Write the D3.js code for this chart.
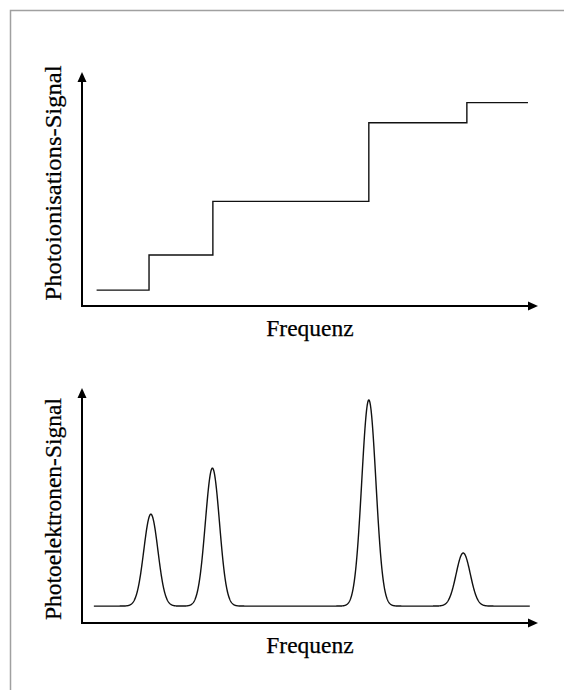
<!DOCTYPE html>
<html>
<head>
<meta charset="utf-8">
<script src="https://cdn.jsdelivr.net/npm/d3@7"></script>
<style>
  body { margin: 0; background: #fff; }
  text { font-family: "Liberation Serif", "Times New Roman", serif; fill: #000; stroke: #000; stroke-width: 0.25px; }
</style>
</head>
<body>
<script>
// step edges (frequency units) and plateau levels for the ionisation signal
var stepEdges = [3.2, 14.7, 28.7, 62.9, 84.4, 97.8];
var stepLevels = [6.8, 21.8, 44.7, 78.3, 86.9];

// photoelectron peaks: centres, heights above baseline, width
var peakCenters = [15.1, 28.6, 62.9, 83.6];
var peakHeights = [39.1, 58.7, 87.7, 22.6];
var peakWidth = 1.55;
var peBaseline = 7.2;
var peRange = [2.6, 98.2];

var xLabel = "Frequenz";
var yLabelTop = "Photoionisations-Signal";
var yLabelBottom = "Photoelektronen-Signal";

var width = 564, height = 690;

var svg = d3.select("body").append("svg")
    .attr("width", width)
    .attr("height", height);

// outer frame, runs off the right and bottom edge
svg.append("rect")
    .attr("x", 10.5).attr("y", 10.5)
    .attr("width", 620).attr("height", 720)
    .attr("fill", "none")
    .attr("stroke", "#a0a0a0")
    .attr("stroke-width", 1.5);

// shared frequency scale
var x = d3.scaleLinear().domain([0, 100]).range([82, 538]);

// y scales for both panels
var yTop = d3.scaleLinear().domain([0, 100]).range([306, 72]);
var yBot = d3.scaleLinear().domain([0, 100]).range([623, 388]);

function drawAxes(y, label, labelY, labelLen) {
  var g = svg.append("g");
  var x0 = x.range()[0], x1 = x.range()[1];
  var y0 = y.range()[0], y1 = y.range()[1];
  // y axis
  g.append("line")
      .attr("x1", x0).attr("y1", y0 + 1)
      .attr("x2", x0).attr("y2", y1 + 8)
      .attr("stroke", "#000").attr("stroke-width", 2);
  g.append("path")
      .attr("d", "M" + (x0 - 4.5) + "," + (y1 + 10) + "L" + x0 + "," + y1 + "L" + (x0 + 4.5) + "," + (y1 + 10) + "Z")
      .attr("fill", "#000");
  // x axis
  g.append("line")
      .attr("x1", x0).attr("y1", y0)
      .attr("x2", x1 - 8).attr("y2", y0)
      .attr("stroke", "#000").attr("stroke-width", 2);
  g.append("path")
      .attr("d", "M" + (x1 - 10) + "," + (y0 - 4.5) + "L" + x1 + "," + y0 + "L" + (x1 - 10) + "," + (y0 + 4.5) + "Z")
      .attr("fill", "#000");
  // labels
  g.append("text")
      .attr("x", (x0 + x1) / 2)
      .attr("y", y0 + 30)
      .attr("text-anchor", "middle")
      .style("font-size", "23.5px")
      .text(xLabel);
  g.append("text")
      .attr("transform", "translate(61," + labelY + ") rotate(-90)")
      .attr("text-anchor", "middle")
      .attr("textLength", labelLen)
      .attr("lengthAdjust", "spacingAndGlyphs")
      .style("font-size", "24px")
      .text(label);
}

drawAxes(yTop, yLabelTop, 183, 235);
drawAxes(yBot, yLabelBottom, 509, 222);

// top panel: step function
var steps = stepLevels.map(function(v, i) { return {x: stepEdges[i], y: v}; });
steps.push({x: stepEdges[stepEdges.length - 1], y: stepLevels[stepLevels.length - 1]});

var stepLine = d3.line()
    .x(function(d) { return x(d.x); })
    .y(function(d) { return yTop(d.y); })
    .curve(d3.curveStepAfter);

svg.append("path")
    .datum(steps)
    .attr("d", stepLine)
    .attr("fill", "none")
    .attr("stroke", "#111")
    .attr("stroke-width", 1.4);

// bottom panel: sum of peaks on a baseline
function signal(f) {
  var s = peBaseline;
  peakCenters.forEach(function(c, i) {
    s += peakHeights[i] * Math.exp(-0.5 * Math.pow((f - c) / peakWidth, 2));
  });
  return s;
}

var freqs = d3.range(peRange[0], peRange[1] + 0.001, 0.05);
var peLine = d3.line()
    .x(function(f) { return x(f); })
    .y(function(f) { return yBot(signal(f)); });

svg.append("path")
    .datum(freqs)
    .attr("d", peLine)
    .attr("fill", "none")
    .attr("stroke", "#111")
    .attr("stroke-width", 1.4);
</script>
</body>
</html>
